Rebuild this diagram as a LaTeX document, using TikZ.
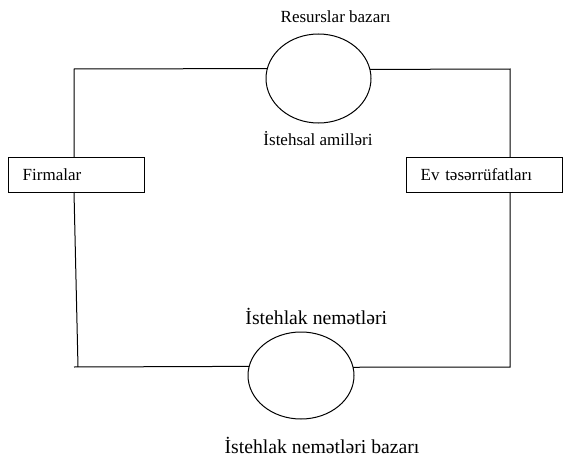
\documentclass[tikz,border=0pt]{standalone}
\usepackage{fontspec}
\setmainfont{Liberation Serif}
\usetikzlibrary{shapes.geometric,calc}
\begin{document}
\begin{tikzpicture}[x=1pt,y=-1pt,
  conn/.style={line width=1pt,line join=miter},
  market/.style={draw,line width=1pt,ellipse,inner sep=0pt,outer sep=0pt},
  agent/.style={draw,line width=1pt,rectangle,minimum height=35pt,inner xsep=14.7pt,inner ysep=0pt,outer sep=0pt,align=left,font=\fontsize{17}{20}\selectfont},
  small/.style={inner sep=0pt,anchor=base,font=\fontsize{17}{20}\selectfont},
  big/.style={inner sep=0pt,anchor=base,font=\fontsize{19.7}{23}\selectfont}]
\useasboundingbox (0,0) rectangle (563,463);
% markets
\node[market,minimum width=105pt,minimum height=89pt] (e1) at (318.5,78.5) {};
\node[market,minimum width=106pt,minimum height=87pt] (e2) at (301,375.5) {};
% agents
\node[agent,text width=106.6pt,anchor=north west] (f) at (8,157) {Firmalar};
\node[agent,text width=126.6pt,anchor=north west] (h) at (406,157) {Ev təsərrüfatları};
% labels
\node[small] (t1) at (335.7,22.7) {Resurslar bazarı};
\node[small] (t2) at (318,145) {İstehsal amilləri};
\node[big] (t3) at (316.3,324) {İstehlak nemətləri};
\node[big] (t4) at (322,453.3) {İstehlak nemətləri bazarı};
% corners
\coordinate (tl) at (74,69);
\coordinate (tr) at (510,69);
\coordinate (br) at (510,367);
\coordinate (bl) at (78,367);
\coordinate (blt) at (74,367);
% connectors
\draw[conn] (f.north -| tl) -- (tl) -- (e1.169.5);
\draw[conn] (e1.10.5) -- (tr) -- (h.north -| tr);
\draw[conn] (h.south -| br) -- (br) -- (e2.9.3);
\draw[conn] (f.south -| tl) -- (bl);
\draw[conn] (blt) -- (e2.170.7);
\end{tikzpicture}
\end{document}
